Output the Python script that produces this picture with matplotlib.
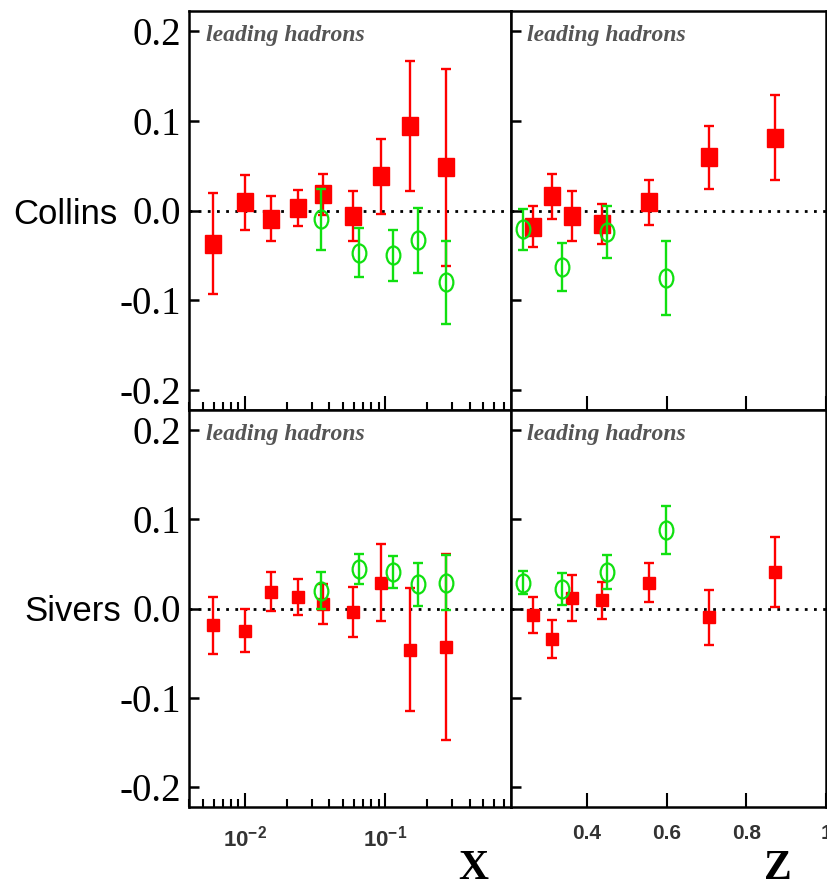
import numpy as np
import matplotlib
matplotlib.use("Agg")
import matplotlib.pyplot as plt
from matplotlib.markers import MarkerStyle
from matplotlib.transforms import Affine2D
from matplotlib.ticker import FixedLocator, NullFormatter, FixedFormatter

plt.rcParams['mathtext.fontset'] = 'custom'
plt.rcParams['mathtext.rm'] = 'Liberation Sans:bold'
plt.rcParams['mathtext.bf'] = 'Liberation Sans:bold'

# x-binning (leading hadrons)
x_red = [0.0059, 0.0100, 0.0153, 0.024, 0.036, 0.059, 0.094, 0.151, 0.273]
x_green = [0.035, 0.065, 0.114, 0.172, 0.273]
# z-binning
z_red = [0.264, 0.314, 0.363, 0.437, 0.556, 0.707, 0.873]
z_green = [0.241, 0.339, 0.452, 0.599]

# Collins asymmetries
collins_x_red = [-0.037, 0.009, -0.009, 0.003, 0.018, -0.006, 0.038, 0.094, 0.048]
collins_x_red_err = [0.056, 0.031, 0.025, 0.020, 0.023, 0.028, 0.042, 0.072, 0.110]
collins_x_green = [-0.010, -0.047, -0.050, -0.033, -0.080]
collins_x_green_err = [0.034, 0.027, 0.028, 0.036, 0.046]
collins_z_red = [-0.018, 0.016, -0.006, -0.015, 0.009, 0.059, 0.081]
collins_z_red_err = [0.023, 0.025, 0.028, 0.022, 0.025, 0.035, 0.047]
collins_z_green = [-0.021, -0.063, -0.024, -0.075]
collins_z_green_err = [0.023, 0.027, 0.029, 0.041]

# Sivers asymmetries
sivers_x_red = [-0.019, -0.025, 0.019, 0.013, 0.005, -0.004, 0.029, -0.046, -0.043]
sivers_x_red_err = [0.032, 0.024, 0.022, 0.020, 0.022, 0.028, 0.043, 0.069, 0.104]
sivers_x_green = [0.020, 0.044, 0.041, 0.027, 0.029]
sivers_x_green_err = [0.021, 0.017, 0.018, 0.024, 0.031]
sivers_z_red = [-0.007, -0.034, 0.012, 0.009, 0.029, -0.010, 0.041]
sivers_z_red_err = [0.020, 0.021, 0.026, 0.021, 0.022, 0.031, 0.039]
sivers_z_green = [0.029, 0.022, 0.041, 0.088]
sivers_z_green_err = [0.013, 0.018, 0.019, 0.027]

y_ticks = [-0.2, -0.1, 0.0, 0.1, 0.2]
y_labels = ['-0.2', '-0.1', '0.0', '0.1', '0.2']
z_ticks = [0.4, 0.6, 0.8, 1.0]
z_labels = ['0.4', '0.6', '0.8', '1']

RED = '#ff0000'
GREEN = '#10e010'

fig = plt.figure(figsize=(8.27, 8.89), dpi=100)
W, H = 827.0, 889.0


def box(x0, y0, x1, y1):
    return [x0 / W, 1 - y1 / H, (x1 - x0) / W, (y1 - y0) / H]


ax_cx = fig.add_axes(box(189, 11, 511, 410))
ax_cz = fig.add_axes(box(511, 11, 826, 410))
ax_sx = fig.add_axes(box(189, 410, 511, 807))
ax_sz = fig.add_axes(box(511, 410, 826, 807))

ellipse = MarkerStyle('o', fillstyle='none', transform=Affine2D().scale(0.76, 1.0))
tall_square = MarkerStyle('s', transform=Affine2D().scale(0.85, 1.0))


def draw(ax, xr, yr, er, xg, yg, eg, big):
    ax.axhline(0, color='black', lw=2, linestyle=(0, (1, 2.3)), zorder=1)
    ax.errorbar(xr, yr, yerr=er, fmt='none', ecolor=RED,
                elinewidth=1.7, capsize=3.6, capthick=1.7, zorder=3)
    ax.plot(xr, yr, linestyle='none', marker=tall_square if big else 's',
            ms=13 if big else 8, color=RED, mec=RED, zorder=3)
    ax.errorbar(xg, yg, yerr=eg, fmt='none', ecolor=GREEN,
                elinewidth=1.7, capsize=3.6, capthick=1.7, zorder=4)
    ax.plot(xg, yg, linestyle='none', marker=ellipse, ms=13, mec=GREEN,
            mew=1.6, zorder=5)
    ax.set_ylim(-0.222, 0.222)
    for s in ax.spines.values():
        s.set_linewidth(1.8)
    ax.text(0.053 if ax.get_xscale() == 'log' else 0.05, 0.925, 'leading hadrons',
            transform=ax.transAxes, family='Liberation Serif', style='italic',
            weight='bold', fontsize=17, color='#555555', va='baseline')


for ax in (ax_cx, ax_sx):
    ax.set_xscale('log')
    ax.set_xlim(0.004, 0.79)
ax_cz.set_xlim(0.21, 1.0)
ax_sz.set_xlim(0.21, 1.0)

draw(ax_cx, x_red, collins_x_red, collins_x_red_err,
     x_green, collins_x_green, collins_x_green_err, True)
draw(ax_cz, z_red, collins_z_red, collins_z_red_err,
     z_green, collins_z_green, collins_z_green_err, True)
draw(ax_sx, x_red, sivers_x_red, sivers_x_red_err,
     x_green, sivers_x_green, sivers_x_green_err, False)
draw(ax_sz, z_red, sivers_z_red, sivers_z_red_err,
     z_green, sivers_z_green, sivers_z_green_err, False)

minor_x = [m * 10.0 ** e for e in (-3, -2, -1) for m in range(2, 10)]
for ax in (ax_cx, ax_sx):
    ax.xaxis.set_major_locator(FixedLocator([0.01, 0.1]))
    ax.xaxis.set_minor_locator(FixedLocator(minor_x))
    ax.xaxis.set_minor_formatter(NullFormatter())
    ax.yaxis.set_major_locator(FixedLocator(y_ticks))
    ax.set_yticklabels(y_labels, family='Liberation Serif', fontsize=28)
    ax.tick_params(axis='y', direction='in', length=7, width=1.8, pad=6, right=False)
    ax.tick_params(axis='x', which='major', direction='in', length=10, width=1.5)
    ax.tick_params(axis='x', which='minor', direction='in', length=6, width=1.5)

for ax in (ax_cz, ax_sz):
    ax.xaxis.set_major_locator(FixedLocator(z_ticks))
    ax.yaxis.set_major_locator(FixedLocator(y_ticks))
    ax.set_yticklabels([])
    ax.tick_params(axis='y', direction='in', length=7, width=1.8)
    ax.tick_params(axis='x', direction='in', length=10, width=1.5)

ax_cx.set_xticklabels([])
ax_cz.set_xticklabels([])
ax_sx.xaxis.set_major_formatter(FixedFormatter([r'$10^{-2}$', r'$10^{-1}$']))
ax_sx.tick_params(axis='x', which='major', labelsize=16, labelcolor='#333333', pad=13)
ax_sz.set_xticklabels(z_labels, family='Liberation Sans', weight='bold',
                      fontsize=15, color='#333333')
ax_sz.tick_params(axis='x', pad=12)

fig.text(13 / W, 1 - 224 / H, 'Collins', family='Liberation Sans', fontsize=25,
         ha='left', va='baseline')
fig.text(24 / W, 1 - 621 / H, 'Sivers', family='Liberation Sans', fontsize=25,
         ha='left', va='baseline')
fig.text(473 / W, 1 - 869 / H, 'X', family='Liberation Serif', weight='bold',
         fontsize=30, ha='center', va='center')
fig.text(778 / W, 1 - 869 / H, 'Z', family='Liberation Serif', weight='bold',
         fontsize=30, ha='center', va='center')

fig.savefig('out.png', dpi=100)
plt.close(fig)
